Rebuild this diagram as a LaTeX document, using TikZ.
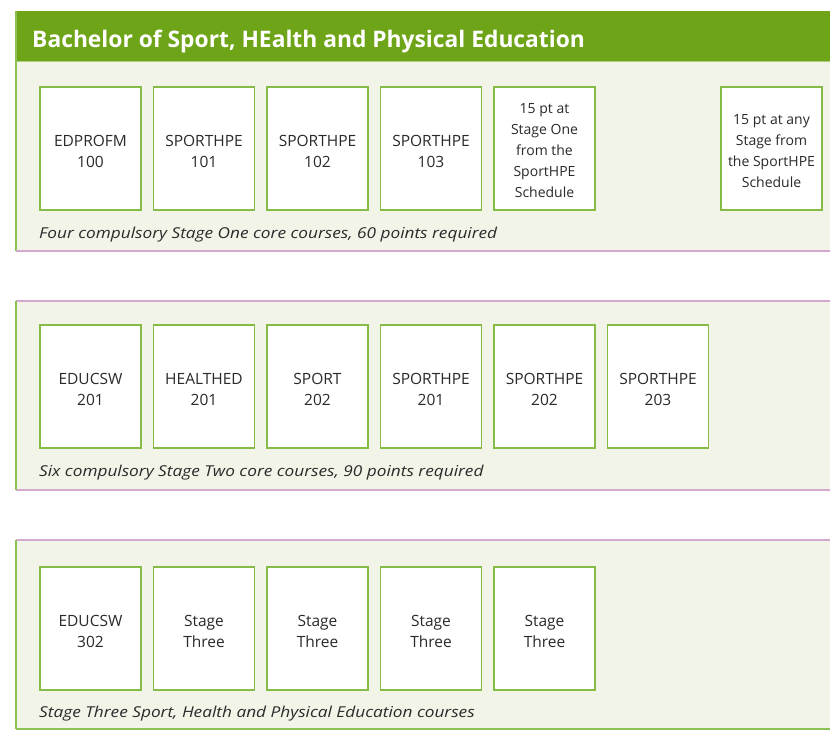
\documentclass[tikz,border=0pt]{standalone}
\usepackage{fontspec}
\setmainfont{Open Sans}
\newfontfamily\capfont[FakeStretch=1.15]{Open Sans Italic}
\definecolor{headgreen}{HTML}{6EA417}
\definecolor{panelfill}{HTML}{F2F4E8}
\definecolor{boxgreen}{HTML}{86BC46}
\definecolor{leftgreen}{HTML}{8DC153}
\definecolor{pinkline}{HTML}{D4A8CF}
\definecolor{textgray}{HTML}{2A2A2A}
\tikzset{
  coursebox/.style={draw=boxgreen, line width=1.6pt, fill=white, minimum width=101pt, minimum height=123pt,
    anchor=north west, outer sep=0pt, inner sep=0pt},
  boxlabel/.style={align=center, text=textgray, inner sep=0pt, yshift=-3pt,
    font=\fontsize{15.5}{21}\selectfont},
  smalllabel/.style={boxlabel, yshift=0.5pt, font=\fontsize{14}{21}\selectfont},
  caption/.style={anchor=west, inner sep=0pt, text=textgray, font=\fontsize{15}{18}\capfont},
  panelbg/.style={fill=panelfill},
  edgegreen/.style={draw=leftgreen, line width=1.2pt},
  edgepink/.style={draw=pinkline, line width=1.2pt}
}
\begin{document}
\begin{tikzpicture}[x=1pt,y=-1pt]
\useasboundingbox (0,0) rectangle (830,741);
% panel 1
\fill[panelbg] (16,62) rectangle (835,251);
\fill[headgreen] (16,11) rectangle (835,62);
\draw[draw=boxgreen!70, line width=1pt] (16,62) -- (835,62);
\draw[edgegreen] (16,11) -- (16,251);
\draw[edgepink] (16,251) -- (835,251);
\node[anchor=west, inner sep=0pt, text=white, font=\fontsize{22.8}{26}\selectfont\bfseries] (title) at (32,41.5) {Bachelor of Sport, HEalth and Physical Education};
% panel 2
\fill[panelbg] (16,301) rectangle (835,490);
\draw[edgepink] (16,301) -- (835,301);
\draw[edgepink] (16,490) -- (835,490);
\draw[edgegreen] (16,301) -- (16,490);
% panel 3
\fill[panelbg] (16,540) rectangle (835,729);
\draw[edgepink] (16,540) -- (835,540);
\draw[edgegreen] (16,729) -- (835,729);
\draw[edgegreen] (16,540) -- (16,729);
% row 1
\node[coursebox, label={[boxlabel]center:EDPROFM\\100}] (a1) at (40,87) {};
\node[coursebox, label={[boxlabel]center:SPORTHPE\\101}] (a2) at (153.5,87) {};
\node[coursebox, label={[boxlabel]center:SPORTHPE\\102}] (a3) at (267,87) {};
\node[coursebox, label={[boxlabel]center:SPORTHPE\\103}] (a4) at (380.5,87) {};
\node[coursebox, label={[smalllabel]center:15 pt at\\Stage One\\from the\\SportHPE\\Schedule}] (a5) at (494,87) {};
\node[coursebox, label={[smalllabel]center:15 pt at any\\Stage from\\the SportHPE\\Schedule}] (a6) at (721,87) {};
\node[caption] (c1) at (39,234.5) {Four compulsory Stage One core courses, 60 points required};
% row 2
\node[coursebox, label={[boxlabel]center:EDUCSW\\201}] (b1) at (40,325) {};
\node[coursebox, label={[boxlabel]center:HEALTHED\\201}] (b2) at (153.5,325) {};
\node[coursebox, label={[boxlabel]center:SPORT\\202}] (b3) at (267,325) {};
\node[coursebox, label={[boxlabel]center:SPORTHPE\\201}] (b4) at (380.5,325) {};
\node[coursebox, label={[boxlabel]center:SPORTHPE\\202}] (b5) at (494,325) {};
\node[coursebox, label={[boxlabel]center:SPORTHPE\\203}] (b6) at (607.5,325) {};
\node[caption] (c2) at (39,472.5) {Six compulsory Stage Two core courses, 90 points required};
% row 3
\node[coursebox, label={[boxlabel]center:EDUCSW\\302}] (d1) at (40,567) {};
\node[coursebox, label={[boxlabel]center:Stage\\Three}] (d2) at (153.5,567) {};
\node[coursebox, label={[boxlabel]center:Stage\\Three}] (d3) at (267,567) {};
\node[coursebox, label={[boxlabel]center:Stage\\Three}] (d4) at (380.5,567) {};
\node[coursebox, label={[boxlabel]center:Stage\\Three}] (d5) at (494,567) {};
\node[caption] (c3) at (39,714) {Stage Three Sport, Health and Physical Education courses};
\end{tikzpicture}
\end{document}
